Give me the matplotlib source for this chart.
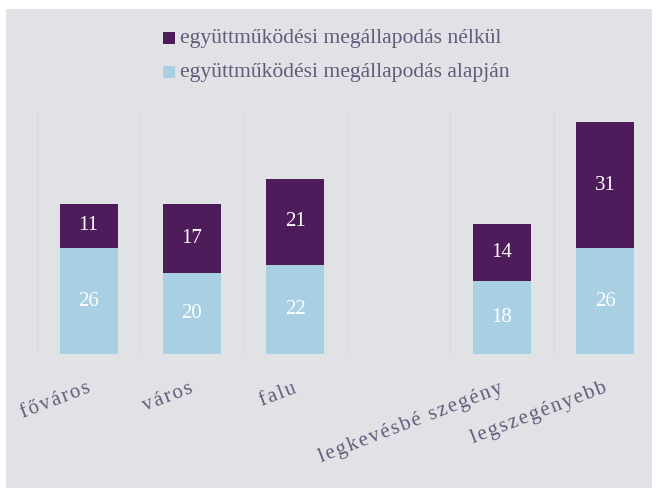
import numpy as np
import matplotlib.pyplot as plt
from matplotlib.patches import Rectangle

categories = ['főváros', 'város', 'falu', '', 'legkevésbé szegény', 'legszegényebb']
alapjan = [26, 20, 22, None, 18, 26]
nelkul = [11, 17, 21, None, 14, 31]
legend_labels = ['együttműködési megállapodás nélkül', 'együttműködési megállapodás alapján']

dark = '#4e1c5a'
light = '#a8cfe2'
bg = '#e1e2e6'
txt = '#625c7c'

plt.rcParams['font.family'] = ['Liberation Serif', 'DejaVu Serif']

fig = plt.figure(figsize=(6.57, 4.93), dpi=100, facecolor='white')
fig.patches.append(Rectangle((6 / 657, 1 - 488 / 493), 646 / 657, 479 / 493,
                             transform=fig.transFigure, facecolor=bg, edgecolor='none', zorder=-5))

ax = fig.add_axes([37 / 657, 1 - 354 / 493, 620 / 657, 244 / 493])
ax.set_zorder(2)
ax.set_facecolor('none')
x = np.arange(len(categories))
w = 0.56
for i in x:
    if alapjan[i] is None:
        continue
    ax.bar(i, alapjan[i], width=w, color=light, zorder=2)
    ax.bar(i, nelkul[i], width=w, bottom=alapjan[i], color=dark, zorder=2)
    ax.text(i, alapjan[i] / 2, str(alapjan[i]), ha='center', va='center',
            color='white', fontsize=15, zorder=3)
    ax.text(i, alapjan[i] + nelkul[i] / 2, str(nelkul[i]), ha='center', va='center',
            color='white', fontsize=15, zorder=3)

ax.set_xlim(-0.5, len(categories) - 0.5)
ax.set_ylim(0, 60)
for b in np.arange(-0.5, len(categories) - 0.5):
    ax.axvline(b, color='#d8d9e2', linewidth=0.8, zorder=1)
ax.axhline(0, color='#d8d9e2', linewidth=0.8, zorder=1)
for s in ax.spines.values():
    s.set_visible(False)
ax.set_xticks(x)
ax.set_xticklabels([])
ax.tick_params(length=0)
ax.set_yticks([])

# letter-spaced, rotated category labels
for i, c in enumerate(categories):
    if not c:
        continue
    spaced = '\u200a'.join(c)
    ax.annotate(spaced, xy=(i, 0), xycoords=('data', 'axes fraction'),
                xytext=(-2, -18), textcoords='offset points',
                ha='right', va='top', rotation=21, rotation_mode='anchor',
                fontsize=15, color=txt)

# legend
for k, (lab, col) in enumerate(zip(legend_labels, [dark, light])):
    yy = 1 - (38 + 34 * k) / 493
    fig.patches.append(Rectangle((163 / 657, yy - 6 / 493), 12 / 657, 12 / 493,
                                 transform=fig.transFigure, facecolor=col, edgecolor='none'))
    fig.text(180 / 657, yy, lab, ha='left', va='center', fontsize=15.6, color=txt)

fig.savefig('out.png', dpi=100, facecolor='white')
